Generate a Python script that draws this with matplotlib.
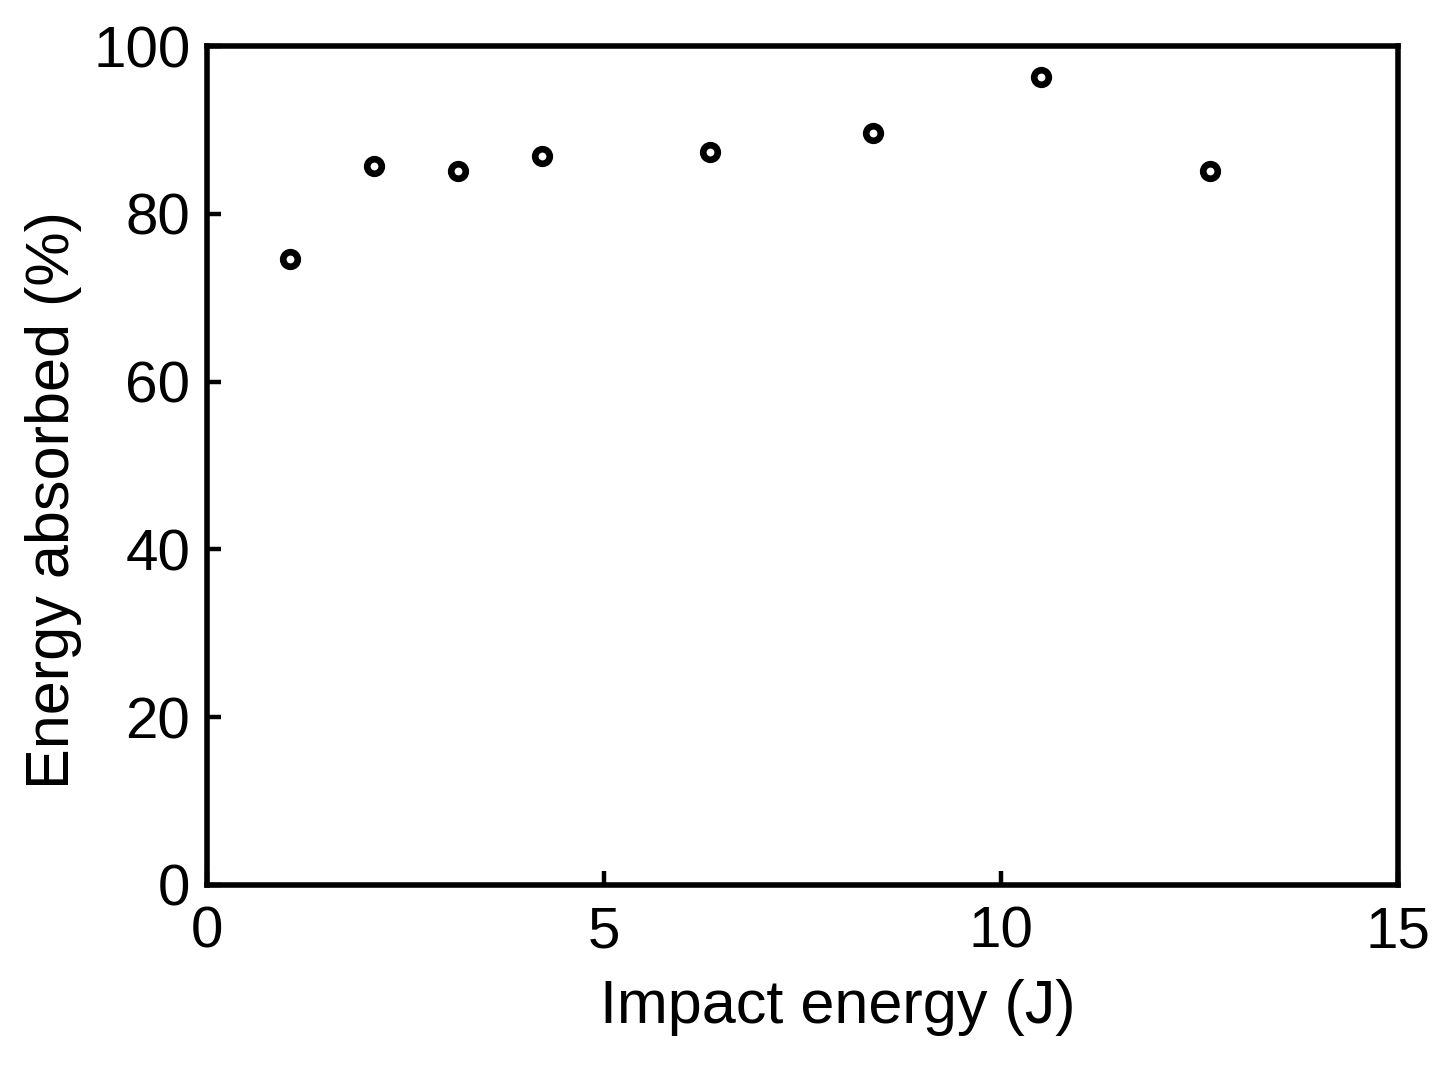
import matplotlib
matplotlib.use('Agg')
import matplotlib.pyplot as plt

plt.rcParams['font.family'] = ['Liberation Sans', 'DejaVu Sans']

impact_energy = [1.05, 2.1, 3.16, 4.22, 6.33, 8.39, 10.5, 12.63]
energy_absorbed = [74.6, 85.7, 85.1, 86.9, 87.4, 89.6, 96.3, 85.1]

fig = plt.figure(figsize=(14.54, 10.70), dpi=100)
ax = fig.add_axes([207/1454, 1 - 885/1070, (1398-207)/1454, (885-46)/1070])

ax.plot(impact_energy, energy_absorbed, 'o', ms=10.5, mew=4.8,
        mfc='white', mec='black', ls='none')

ax.set_xlim(0, 15)
ax.set_ylim(0, 100)
ax.set_xticks([0, 5, 10, 15])
ax.set_yticks([0, 20, 40, 60, 80, 100])

for s in ax.spines.values():
    s.set_linewidth(4)
ax.tick_params(direction='in', length=10, width=3.2, labelsize=42)
ax.tick_params(axis='x', pad=15)
ax.tick_params(axis='y', pad=12)

ax.set_xlabel('Impact energy (J)', fontsize=44, labelpad=14)
ax.set_ylabel('Energy absorbed (%)', fontsize=44, labelpad=8)
# labels are a bit off-centre in the original
ax.xaxis.label.set_x(0.53)
ax.yaxis.label.set_y(0.459)

fig.savefig('out.png', dpi=100)
